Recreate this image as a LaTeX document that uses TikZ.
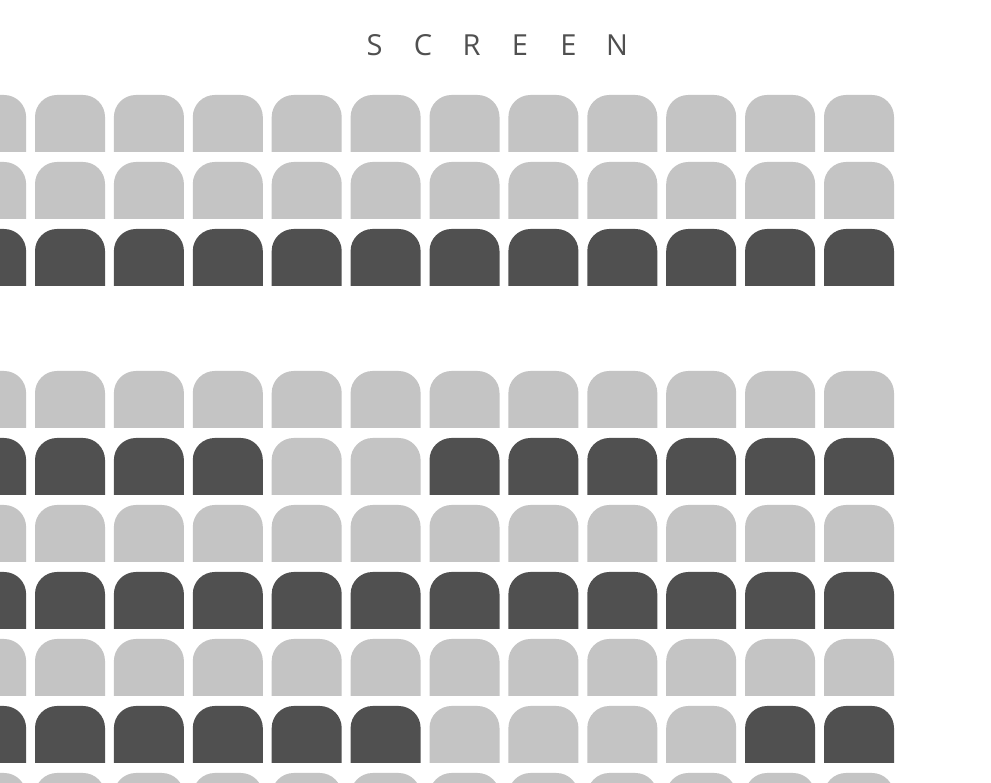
\documentclass[tikz,border=0pt]{standalone}
\usepackage{fontspec}
\setmainfont{Open Sans}
\definecolor{seatfree}{HTML}{C4C4C4}
\definecolor{seattaken}{HTML}{505050}
\definecolor{screentext}{HTML}{505050}
\tikzset{
  seatshape/.pic={
    \path[pic actions] (0,0) -- (0,35) arc[start angle=180,end angle=90,radius=22]
      -- (48,57) arc[start angle=90,end angle=0,radius=22] -- (70,0) -- cycle;
  },
  seatfreestyle/.style={fill=seatfree},
  seattakenstyle/.style={fill=seattaken},
  screenlabel/.style={text=screentext,font=\fontsize{29}{35}\selectfont,inner sep=0pt,anchor=base}
}
\newcommand{\scrletter}[1]{\makebox[48.5pt][c]{#1}}
\begin{document}
\begin{tikzpicture}[x=1pt,y=1pt]
\useasboundingbox (0,0) rectangle (991,783);
\clip (0,0) rectangle (991,783);
\fill[white] (0,0) rectangle (991,783);
\node[screenlabel] (screen) at (495.75,727) {\scrletter{S}\scrletter{C}\scrletter{R}\scrletter{E}\scrletter{E}\scrletter{N}};
\foreach \yb/\row in {
  631/{0,0,0,0,0,0,0,0,0,0,0,0},
  564/{0,0,0,0,0,0,0,0,0,0,0,0},
  497/{1,1,1,1,1,1,1,1,1,1,1,1},
  355/{0,0,0,0,0,0,0,0,0,0,0,0},
  288/{1,1,1,1,0,0,1,1,1,1,1,1},
  221/{0,0,0,0,0,0,0,0,0,0,0,0},
  154/{1,1,1,1,1,1,1,1,1,1,1,1},
   87/{0,0,0,0,0,0,0,0,0,0,0,0},
   20/{1,1,1,1,1,1,0,0,0,0,1,1},
  -47/{0,0,0,0,0,0,0,0,0,0,0,0}}{
  \foreach \c [count=\i from 0] in \row {
    \ifnum\c=1
      \pic[seattakenstyle] at ({-43.9+78.9*\i},\yb) {seatshape};
    \else
      \pic[seatfreestyle] at ({-43.9+78.9*\i},\yb) {seatshape};
    \fi
  }
}
\end{tikzpicture}
\end{document}
